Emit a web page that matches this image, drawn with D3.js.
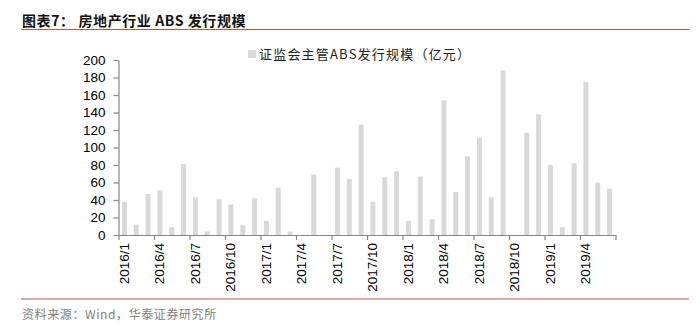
<!DOCTYPE html>
<html>
<head>
<meta charset="utf-8">
<script src="https://cdn.jsdelivr.net/npm/d3@7"></script>
<style>
  html, body { margin: 0; padding: 0; background: #fff; }
  svg { display: block; }
  .cjk { font-family: "Noto Sans CJK SC", "Noto Sans", sans-serif; }
  .num { font-family: "Liberation Sans", Arial, sans-serif; }
</style>
</head>
<body>
<svg id="chart" width="700" height="330"></svg>
<script>
// Monthly issuance of CSRC-regulated real-estate ABS (100 million yuan)
const months = [
  "2016/1","2016/2","2016/3","2016/4","2016/5","2016/6","2016/7","2016/8","2016/9","2016/10","2016/11","2016/12",
  "2017/1","2017/2","2017/3","2017/4","2017/5","2017/6","2017/7","2017/8","2017/9","2017/10","2017/11","2017/12",
  "2018/1","2018/2","2018/3","2018/4","2018/5","2018/6","2018/7","2018/8","2018/9","2018/10","2018/11","2018/12",
  "2019/1","2019/2","2019/3","2019/4","2019/5","2019/6"
];
const issuance = [
  38, 12, 47, 51, 9, 81, 43, 4, 41, 35, 11, 42,
  16, 54, 4, 0, 69, 0, 77, 64, 126, 38, 66, 73,
  16, 67, 18, 154, 49, 90, 111, 43, 188, 0, 117, 138,
  80, 9, 82, 175, 60, 53
];
const yTicks = [0, 20, 40, 60, 80, 100, 120, 140, 160, 180, 200];
const labelEvery = 3;

const titleText = "图表7： 房地产行业 ABS 发行规模";
const legendText = "证监会主管ABS发行规模（亿元）";
const sourceText = "资料来源：Wind，华泰证券研究所";

const svg = d3.select("#chart");
const plot = { left: 118.5, right: 615.5, top: 60, bottom: 235 };
const barColor = "#d9d9d9";
const axisColor = "#868686";
const ruleColor = "#c0583f";

const x = d3.scaleBand()
  .domain(months)
  .range([plot.left, plot.right])
  .paddingInner(0.58)
  .paddingOuter(0.29);

// slot index -> pixel, for tick marks on category boundaries
const xSlot = d3.scaleLinear().domain([0, months.length]).range([plot.left, plot.right]);

const y = d3.scaleLinear().domain([0, 200]).range([plot.bottom, plot.top]);

// Title and rules
svg.append("text")
  .attr("class", "cjk")
  .attr("x", 22).attr("y", 26)
  .attr("font-size", 14).attr("font-weight", 700)
  .attr("fill", "#111")
  .attr("letter-spacing", 0.6)
  .text(titleText);

svg.append("line")
  .attr("x1", 21).attr("x2", 689).attr("y1", 29.5).attr("y2", 29.5)
  .attr("stroke", ruleColor).attr("stroke-width", 1.2);

svg.append("line")
  .attr("x1", 21).attr("x2", 689).attr("y1", 299).attr("y2", 299)
  .attr("stroke", ruleColor).attr("stroke-width", 1.2);

svg.append("text")
  .attr("class", "cjk")
  .attr("x", 22).attr("y", 319)
  .attr("font-size", 12)
  .attr("fill", "#808080")
  .attr("letter-spacing", 0.6)
  .text(sourceText);

// Legend
svg.append("rect")
  .attr("x", 248).attr("y", 50).attr("width", 8).attr("height", 8)
  .attr("fill", barColor);
svg.append("text")
  .attr("class", "cjk")
  .attr("x", 259).attr("y", 58.5)
  .attr("font-size", 13)
  .attr("fill", "#222")
  .attr("letter-spacing", 1.2)
  .text(legendText);

// Bars
svg.append("g")
  .selectAll("rect")
  .data(months.map((m, i) => ({ m, v: issuance[i] })))
  .join("rect")
  .attr("x", d => x(d.m))
  .attr("width", x.bandwidth())
  .attr("y", d => y(d.v))
  .attr("height", d => y(0) - y(d.v))
  .attr("fill", barColor);

// Y axis
const yAxis = svg.append("g")
  .attr("transform", `translate(${plot.left},0)`)
  .call(d3.axisLeft(y).tickValues(yTicks).tickSize(5).tickSizeOuter(0).tickPadding(8));
yAxis.selectAll("text")
  .attr("class", "num")
  .attr("font-size", 13.5)
  .attr("fill", "#000");

// X axis: ticks every three months on slot boundaries
const boundaryTicks = d3.range(0, months.length + 1, labelEvery);
const xAxis = svg.append("g")
  .attr("transform", `translate(0,${plot.bottom})`)
  .call(d3.axisBottom(xSlot).tickValues(boundaryTicks).tickSize(5).tickSizeOuter(0).tickFormat(""));

[xAxis, yAxis].forEach(g => {
  g.select(".domain").attr("stroke", axisColor).attr("stroke-width", 1.2);
  g.selectAll(".tick line").attr("stroke", axisColor).attr("stroke-width", 1.2);
});

// Rotated month labels centred on their bars
svg.append("g")
  .selectAll("text")
  .data(months.filter((m, i) => i % labelEvery === 0))
  .join("text")
  .attr("class", "num")
  .attr("font-size", 13.5)
  .attr("fill", "#000")
  .attr("text-anchor", "end")
  .attr("dominant-baseline", "middle")
  .attr("transform", d => `translate(${x(d) + x.bandwidth() / 2 + 1},${plot.bottom + 8}) rotate(-90)`)
  .text(d => d);
</script>
</body>
</html>
